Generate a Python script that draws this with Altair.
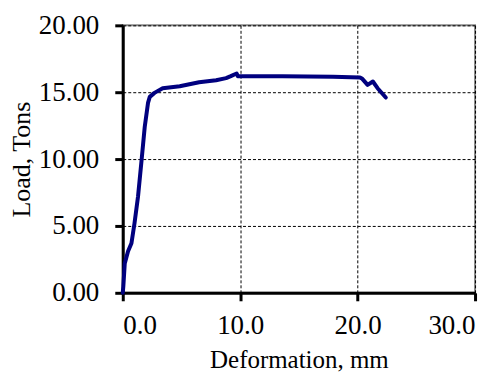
import altair as alt
import pandas as pd

deformation = [0.0, 0.05, 0.17, 0.45, 0.74, 1.0, 1.3, 1.6, 1.87, 2.15, 2.3, 2.7, 3.4, 4.85,
               6.5, 7.95, 8.8, 9.2, 9.7, 9.8, 13.6, 17.9, 20.2, 20.4, 20.85, 21.3, 21.7, 22.4]
load = [0.0, 0.5, 2.2, 3.1, 3.7, 5.2, 7.2, 9.9, 12.4, 14.2, 14.65, 14.95, 15.3, 15.45,
        15.75, 15.9, 16.05, 16.2, 16.4, 16.2, 16.2, 16.15, 16.1, 16.0, 15.55, 15.8, 15.3, 14.6]

df = pd.DataFrame({"Deformation": deformation, "Load": load, "order": list(range(len(load)))})

FONT = "Liberation Serif"

chart = alt.Chart(df).mark_line(color="#00007f", strokeWidth=4, strokeJoin="round", strokeCap="round").encode(
    x=alt.X("Deformation:Q", scale=alt.Scale(domain=[0, 30], nice=False),
            axis=alt.Axis(title="Deformation, mm", values=[0, 10, 20, 30], format=".1f",
                          grid=True, gridColor="black", gridDash=[3, 2], gridWidth=1,
                          domainColor="black", domainWidth=3, tickColor="black", tickWidth=3,
                          tickSize=8, labelPadding=12, labelFont=FONT, labelFontSize=27,
                          labelColor="black", titleFont=FONT, titleFontSize=25,
                          titleFontWeight="normal", titleColor="black", titlePadding=9)),
    y=alt.Y("Load:Q", scale=alt.Scale(domain=[0, 20], nice=False),
            axis=alt.Axis(title="Load, Tons", values=[0, 5, 10, 15, 20], format=".2f",
                          grid=True, gridColor="black", gridDash=[3, 2], gridWidth=1,
                          domainColor="black", domainWidth=3, tickColor="black", tickWidth=3,
                          tickSize=8, labelPadding=16, labelFont=FONT, labelFontSize=27,
                          labelColor="black", titleFont=FONT, titleFontSize=26,
                          titleFontWeight="normal", titleColor="black", titlePadding=4)),
    order="order:Q",
).properties(
    width=353, height=268,
    autosize=alt.AutoSizeParams(type="none"),
    padding={"left": 115, "top": 17, "right": 20, "bottom": 84},
).configure_view(stroke="#888888", strokeWidth=2)

chart.save("out.html", embed_options={"renderer": "svg", "actions": False})
